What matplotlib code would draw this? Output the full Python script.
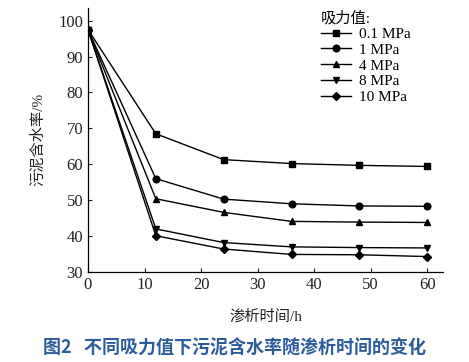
import matplotlib.pyplot as plt

plt.rcParams['font.family'] = ['Liberation Serif', 'Noto Sans CJK SC']
plt.rcParams['mathtext.fontset'] = 'stix'

time_h = [0, 12, 24, 36, 48, 60]
labels = ["0.1 MPa", "1 MPa", "4 MPa", "8 MPa", "10 MPa"]
markers = ["s", "o", "^", "v", "D"]
w_01 = [97.5, 68.5, 61.3, 60.2, 59.7, 59.4]
w_1 = [97.5, 56.0, 50.3, 49.0, 48.4, 48.3]
w_4 = [97.5, 50.4, 46.6, 44.1, 43.9, 43.8]
w_8 = [97.5, 42.0, 38.2, 37.0, 36.8, 36.7]
w_10 = [97.5, 40.1, 36.4, 34.9, 34.8, 34.3]
series = [w_01, w_1, w_4, w_8, w_10]

fig = plt.figure(figsize=(4.69, 3.62), dpi=100)
ax = fig.add_axes([0.1876, 0.2486, 0.757, 0.73])

for vals, lab, mk in zip(series, labels, markers):
    ms = 4.2 if mk == "D" else 4.8
    ax.plot(time_h, vals, color="black", lw=1.0, marker=mk, ms=ms, label=lab)

ax.set_xlim(0, 62.8)
ax.set_ylim(30, 103.6)
ax.set_xticks([0, 10, 20, 30, 40, 50, 60])
ax.set_yticks([30, 40, 50, 60, 70, 80, 90, 100])
ax.tick_params(direction="in", length=3, width=0.8, labelsize=12, colors="#222222")
for s in ["top", "right"]:
    ax.spines[s].set_visible(False)
for s in ["left", "bottom"]:
    ax.spines[s].set_linewidth(0.9)

ax.set_xlabel("渗析时间/h", fontsize=11, labelpad=12, color="#222222")
ax.set_ylabel("污泥含水率/%", fontsize=11, labelpad=9, color="#222222")

leg = ax.legend(title="吸力值:", loc="upper left", bbox_to_anchor=(0.625, 1.03),
                frameon=False, fontsize=11, title_fontsize=11, handlelength=2.0,
                handletextpad=0.5, labelspacing=0.14, alignment="left", borderpad=0.2)

fig.text(0.5, 0.037, "图2   不同吸力值下污泥含水率随渗析时间的变化",
         ha="center", va="center", fontsize=13, fontweight="bold",
         color="#2b5c9c", family=["Noto Sans CJK SC", "DejaVu Sans"])

plt.savefig("out.png", dpi=100)
